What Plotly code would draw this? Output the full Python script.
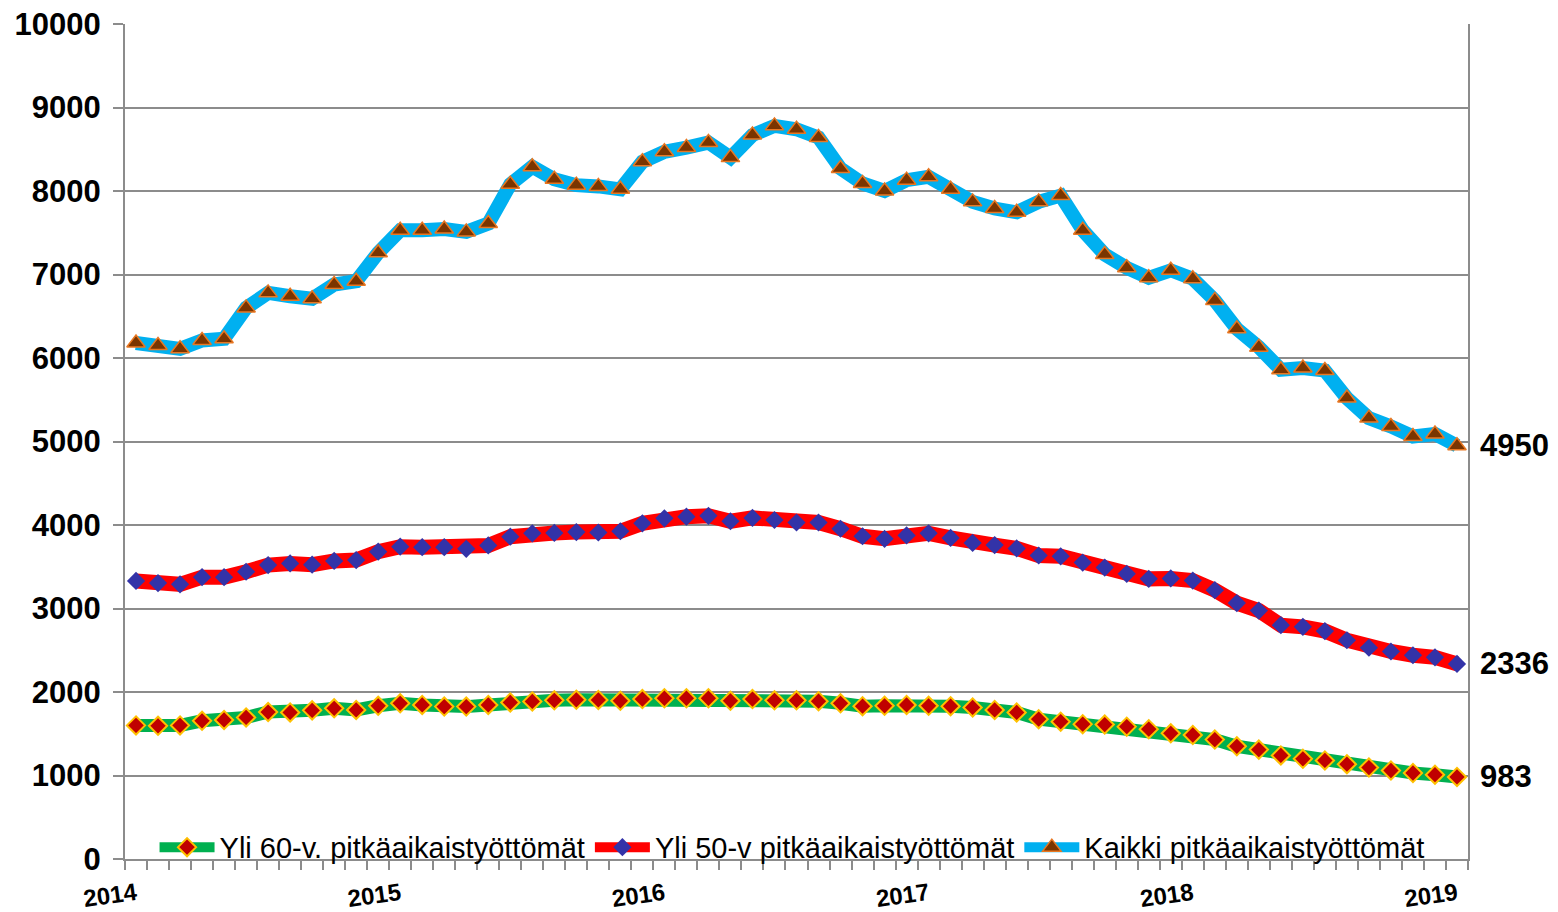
import plotly.graph_objects as go

# ---- data (monthly, Jan 2014 .. Jan 2019) ----
months = [f"{y}-{m:02d}" for y in range(2014, 2019) for m in range(1, 13)] + ["2019-01"]

yli60 = [1600, 1595, 1600, 1655, 1665, 1695, 1760, 1755, 1780, 1805, 1785, 1835,
         1865, 1845, 1825, 1825, 1845, 1875, 1887, 1900, 1907, 1905, 1895, 1915,
         1925, 1925, 1925, 1895, 1915, 1900, 1900, 1890, 1865, 1830, 1835, 1845,
         1835, 1830, 1815, 1785, 1755, 1675, 1645, 1615, 1610, 1585, 1555, 1505,
         1485, 1430, 1350, 1310, 1240, 1200, 1180, 1135, 1095, 1060, 1030, 1010,
         983]

yli50 = [3330, 3305, 3290, 3375, 3375, 3440, 3520, 3540, 3525, 3570, 3580, 3680,
         3740, 3735, 3735, 3715, 3755, 3860, 3900, 3905, 3915, 3910, 3925, 4020,
         4080, 4100, 4110, 4045, 4085, 4060, 4030, 4030, 3955, 3865, 3835, 3875,
         3900, 3845, 3785, 3760, 3720, 3635, 3625, 3550, 3490, 3415, 3355, 3360,
         3335, 3220, 3065, 2975, 2800, 2780, 2730, 2620, 2530, 2485, 2440, 2415,
         2336]

kaikki = [6180, 6150, 6110, 6210, 6230, 6600, 6780, 6740, 6710, 6880, 6920, 7260,
          7530, 7530, 7545, 7510, 7610, 8080, 8290, 8140, 8070, 8055, 8020, 8350,
          8470, 8520, 8580, 8400, 8670, 8780, 8740, 8640, 8270, 8090, 8000, 8130,
          8170, 8020, 7870, 7790, 7745, 7870, 7945, 7530, 7240, 7080, 6960, 7050,
          6950, 6690, 6350, 6130, 5860, 5880, 5850, 5520, 5280, 5180, 5060, 5090,
          4950]

series_names = ["Yli 60-v. pitkäaikaistyöttömät",
                "Yli 50-v pitkäaikaistyöttömät",
                "Kaikki pitkäaikaistyöttömät"]

year_labels = ["2014", "2015", "2016", "2017", "2018", "2019"]

# ---- build ----
x = list(range(len(months)))
year_pos = [months.index(f"{y}-01") for y in year_labels]

FONT = "Liberation Sans, Arial, sans-serif"
GRID = "#8c8c8c"

fig = go.Figure()

fig.add_trace(go.Scatter(
    x=x, y=yli60, name=series_names[0], mode="lines+markers",
    line=dict(color="#00B050", width=13),
    marker=dict(symbol="diamond", size=14, color="#C00000",
                line=dict(color="#FFC000", width=2)),
))
fig.add_trace(go.Scatter(
    x=x, y=yli50, name=series_names[1], mode="lines+markers",
    line=dict(color="#FF0000", width=15),
    marker=dict(symbol="diamond", size=14, color="#3333A8",
                line=dict(color="#3333A8", width=0)),
))
fig.add_trace(go.Scatter(
    x=x, y=kaikki, name=series_names[2], mode="lines+markers",
    line=dict(color="#00B0F0", width=14),
    marker=dict(symbol="triangle-up", size=16, color="#7A3500",
                line=dict(color="#E87722", width=1.5)),
))

# end-value labels
for vals in (kaikki, yli50, yli60):
    fig.add_annotation(x=x[-1], y=vals[-1], text=f"<b>{vals[-1]}</b>",
                       xref="x", yref="y", xanchor="left", yanchor="middle",
                       xshift=21, showarrow=False,
                       font=dict(family=FONT, size=31, color="black"))

fig.update_layout(
    width=1558, height=912,
    margin=dict(l=125, r=90, t=24, b=53, autoexpand=False),
    paper_bgcolor="white", plot_bgcolor="white",
    font=dict(family=FONT, color="black"),
    showlegend=True,
    legend=dict(orientation="h", x=0.022, xanchor="left", y=0.014, yanchor="middle",
                bgcolor="rgba(0,0,0,0)", font=dict(family=FONT, size=29, color="black"),
                itemwidth=55, tracegroupgap=0, traceorder="normal"),
)

fig.update_xaxes(
    range=[-0.5, len(months) - 0.5], automargin=False,
    tickmode="array", tickvals=year_pos,
    ticktext=[f"<b>{t}</b>" for t in year_labels],
    tickangle=-8, tickfont=dict(family=FONT, size=24, color="black"),
    ticks="", ticklabelstandoff=10,
    showgrid=False, zeroline=False,
    showline=True, linecolor=GRID, linewidth=2,
    minor=dict(tickmode="linear", tick0=-0.5, dtick=1, ticks="outside",
               ticklen=9, tickwidth=2, tickcolor=GRID, showgrid=False),
)
fig.update_yaxes(
    range=[0, 10000], dtick=1000, tickformat="d", automargin=False,
    tickprefix="<b>", ticksuffix="</b>",
    tickfont=dict(family=FONT, size=31, color="black"),
    ticks="outside", ticklen=10, tickwidth=2, tickcolor=GRID,
    showgrid=True, gridcolor=GRID, gridwidth=2,
    zeroline=False, showline=True, linecolor=GRID, linewidth=2, mirror=True,
    ticklabelstandoff=6,
)

fig.write_html("out.html", config={"displayModeBar": False},
               post_script="document.body.style.margin='0';document.body.style.overflow='hidden';")
